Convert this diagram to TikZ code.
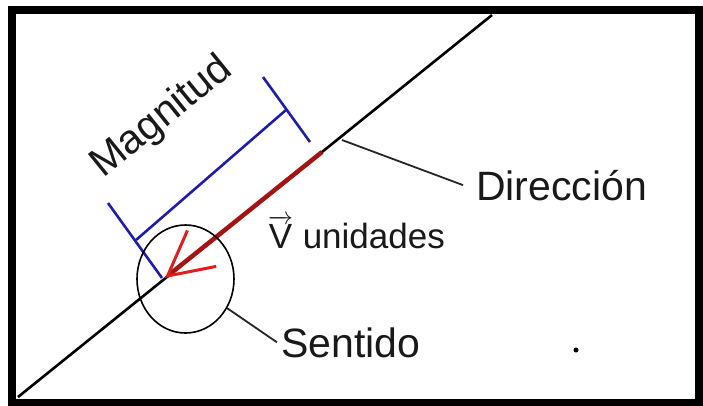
\documentclass[tikz,border=0pt]{standalone}
\usepackage{fontspec}
\setmainfont{Liberation Sans}
\usetikzlibrary{arrows.meta,shapes.geometric}

\definecolor{vecred}{RGB}{165,20,20}
\definecolor{tipred}{RGB}{225,30,30}
\definecolor{brackblue}{RGB}{30,30,170}

\tikzset{
  labeltext/.style={font=\fontsize{41}{48}\selectfont, inner sep=0pt, text=black!90},
  leader/.style={line width=1.8pt, black!85},
  bracket/.style={line width=2.6pt, brackblue},
  vecarrow/.style={line width=4.5pt, vecred,
    -{Straight Barb[length=44pt, width=46pt, line width=3pt, color=tipred]}},
}

\begin{document}
\begin{tikzpicture}[x=1pt,y=-1pt]
\useasboundingbox (0,0) rectangle (703,405);
% frame
\draw[line width=8pt] (12,10) rectangle (699,403);
% line of action
\coordinate (lineA) at (18,397);
\coordinate (lineB) at (492,15);
\draw[line width=2.6pt] (lineA) -- (lineB);
% magnitude bracket
\coordinate (brA1) at (263,77);
\coordinate (brA2) at (310,142);
\coordinate (brB1) at (108,203);
\coordinate (brB2) at (162,278);
\draw[bracket] (brA1) -- (brA2);
\draw[bracket] (brB1) -- (brB2);
\draw[bracket] (286,110) -- (136,240);
\node[labeltext, anchor=base west, rotate=39] (mag) at (103,179) {Magnitud};
% the vector
\coordinate (tail) at (322,152);
\coordinate (tip) at (165,278);
\draw[vecarrow] (tail) -- (tip);
% sense circle
\node[ellipse, draw, line width=1.6pt, minimum width=97pt, minimum height=108pt, inner sep=0pt] (sense) at (185.5,279) {};
% labels
\node[labeltext, anchor=base west] (dir) at (476,200) {Dirección};
\node[labeltext, anchor=base west] (sen) at (281,357) {Sentido};
\node[labeltext, font=\fontsize{35}{42}\selectfont, anchor=base west] (units) at (268,248) {$\overrightarrow{\hbox{V}}$ unidades};
\coordinate (dirpt) at (342,140);
\draw[leader] (dirpt) -- ([xshift=-13pt]dir.west);
\draw[leader] (sense.-35) -- ([xshift=-4pt]sen.west);
% stray dot
\node[circle, fill, inner sep=0pt, minimum size=5pt] (dot) at (576,350) {};
\end{tikzpicture}
\end{document}
